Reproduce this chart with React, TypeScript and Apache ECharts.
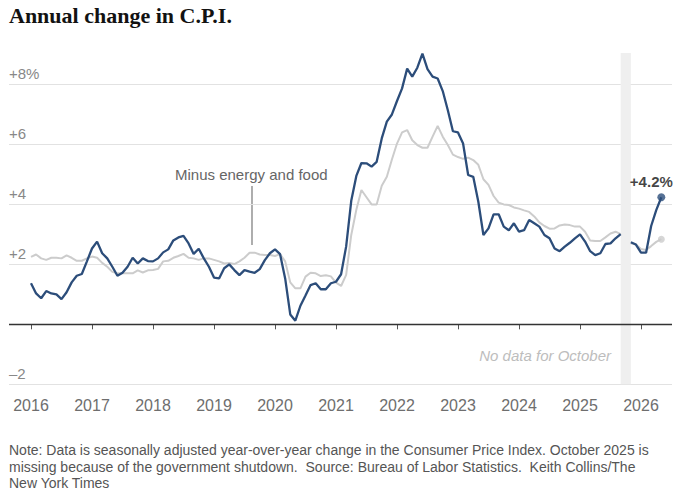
import React, { useEffect, useRef } from "react";
import * as echarts from "echarts";

// Monthly year-over-year change, Jan 2016 .. May 2026 (Oct 2025 missing)
const startYear = 2016;
const headlineCPI: (number | null)[] = [
  // 2016
  1.37, 1.03, 0.87, 1.11, 1.03, 1.0, 0.84, 1.07, 1.4, 1.62, 1.68, 2.1,
  // 2017
  2.53, 2.76, 2.37, 2.2, 1.92, 1.62, 1.72, 1.92, 2.22, 2.03, 2.2, 2.11,
  // 2018
  2.1, 2.2, 2.4, 2.5, 2.8, 2.9, 2.95, 2.7, 2.35, 2.52, 2.2, 1.92,
  // 2019
  1.56, 1.53, 1.87, 2.0, 1.81, 1.64, 1.81, 1.76, 1.72, 1.84, 2.14, 2.37,
  // 2020
  2.5, 2.34, 1.53, 0.33, 0.12, 0.62, 0.96, 1.31, 1.37, 1.17, 1.17, 1.37,
  // 2021
  1.42, 1.67, 2.6, 4.12, 4.95, 5.38, 5.37, 5.26, 5.42, 6.2, 6.76, 7.0,
  // 2022
  7.45, 7.87, 8.53, 8.26, 8.56, 9.03, 8.51, 8.26, 8.2, 7.78, 7.14, 6.44,
  // 2023
  6.4, 6.03, 4.98, 4.92, 4.09, 2.98, 3.2, 3.67, 3.67, 3.26, 3.14, 3.37,
  // 2024
  3.09, 3.14, 3.48, 3.37, 3.26, 2.98, 2.87, 2.53, 2.44, 2.59, 2.72, 2.87,
  // 2025
  3.0, 2.76, 2.44, 2.31, 2.37, 2.68, 2.7, 2.87, 3.01, null, 2.74, 2.66,
  // 2026
  2.39, 2.39, 3.28, 3.81, 4.24,
];

const coreCPI: (number | null)[] = [
  // 2016
  2.25, 2.33, 2.2, 2.15, 2.22, 2.22, 2.2, 2.3, 2.22, 2.12, 2.12, 2.2,
  // 2017
  2.26, 2.22, 2.05, 1.92, 1.75, 1.7, 1.7, 1.7, 1.7, 1.8, 1.73, 1.8,
  // 2018
  1.81, 1.85, 2.1, 2.12, 2.22, 2.28, 2.35, 2.22, 2.2, 2.15, 2.2, 2.2,
  // 2019
  2.15, 2.1, 2.03, 2.05, 2.01, 2.1, 2.22, 2.39, 2.39, 2.33, 2.31, 2.31,
  // 2020
  2.28, 2.34, 2.1, 1.4, 1.2, 1.2, 1.59, 1.72, 1.7, 1.61, 1.64, 1.6,
  // 2021
  1.39, 1.28, 1.65, 2.98, 3.82, 4.48, 4.24, 4.0, 4.0, 4.62, 4.92, 5.5,
  // 2022
  6.03, 6.4, 6.48, 6.14, 5.98, 5.89, 5.89, 6.26, 6.62, 6.26, 5.98, 5.66,
  // 2023
  5.58, 5.52, 5.56, 5.48, 5.32, 4.84, 4.65, 4.28, 4.06, 4.0, 3.98, 3.9,
  // 2024
  3.86, 3.8, 3.75, 3.6, 3.4, 3.28, 3.19, 3.2, 3.3, 3.33, 3.31, 3.26,
  // 2025
  3.26, 3.09, 2.8, 2.78, 2.78, 2.9, 3.03, 3.09, 3.01, null, 2.7, 2.66,
  // 2026
  2.51, 2.48, 2.61, 2.75, 2.84,
];

const xTickYears = [2016, 2017, 2018, 2019, 2020, 2021, 2022, 2023, 2024, 2025, 2026];
const yTicks = [-2, 2, 4, 6, 8];
const yTickLabels = ["–2", "+2", "+4", "+6", "+8%"];
// Missing-data band: Sep 2025 .. Nov 2025
const gapBand = [2025 + 8 / 12, 2025 + 10 / 12];

const noteLines = [
  "Note: Data is seasonally adjusted year-over-year change in the Consumer Price Index. October 2025 is",
  "missing because of the government shutdown.  Source: Bureau of Labor Statistics.  Keith Collins/The",
  "New York Times",
];

const SANS = "'Liberation Sans', Arial, sans-serif";

function toPoints(vals: (number | null)[]) {
  return vals.map((v, i) => [startYear + i / 12, v === null ? "-" : v]);
}

export default function App() {
  const ref = useRef<HTMLDivElement>(null);

  useEffect(() => {
    document.body.style.margin = "0";
    if (!ref.current) return;
    const chart = echarts.init(ref.current, null, { renderer: "svg" });

    const blue = "#2c4d7a";
    const gray = "#cccccc";
    const lastIdx = headlineCPI.length - 1;
    const lastX = startYear + lastIdx / 12;

    const option: any = {
      animation: false,
      grid: {
        left: 9,
        right: 8,
        top: 53,
        bottom: 110.7,
        containLabel: false,
        outerBoundsMode: "none",
      },
      xAxis: {
        type: "value",
        min: 2016 - 22 / 61,
        max: 2016 + 641 / 61,
        axisLine: { show: false },
        splitLine: { show: false },
        axisTick: {
          show: true,
          customValues: xTickYears,
          length: 5,
          lineStyle: { color: "#555", width: 1 },
        },
        axisLabel: {
          customValues: xTickYears,
          formatter: (v: number) => String(Math.round(v)),
          color: "#6e6e6e",
          fontSize: 16,
          fontFamily: SANS,
          margin: 13,
        },
      },
      yAxis: {
        type: "value",
        min: -2,
        max: 9.05,
        interval: 2,
        axisLine: { show: false },
        axisTick: { show: false },
        splitLine: {
          show: true,
          showMaxLine: false,
          lineStyle: { color: "#e2e2e2", width: 1 },
        },
        axisLabel: {
          inside: true,
          margin: 0,
          verticalAlign: "bottom",
          align: "left",
          color: "#888",
          fontSize: 15,
          fontFamily: SANS,
          padding: [0, 0, 3, 0],
          formatter: (v: number) => {
            const k = yTicks.findIndex((t) => Math.abs(t - v) < 1e-6);
            return k >= 0 ? yTickLabels[k] : "";
          },
        },
      },
      series: [
        {
          name: "Minus energy and food",
          type: "line",
          data: toPoints(coreCPI),
          symbol: "none",
          connectNulls: false,
          lineStyle: { color: gray, width: 2 },
          z: 2,
          markArea: {
            silent: true,
            itemStyle: { color: "#efefef" },
            data: [[{ xAxis: gapBand[0] }, { xAxis: gapBand[1] }]],
          },
        },
        {
          name: "C.P.I.",
          type: "line",
          data: toPoints(headlineCPI),
          symbol: "none",
          connectNulls: false,
          lineStyle: { color: blue, width: 2.3 },
          z: 4,
          markLine: {
            silent: true,
            symbol: ["none", "none"],
            label: { show: false },
            lineStyle: { color: "#333", width: 1.3, type: "solid" },
            data: [{ yAxis: 0 }],
          },
        },
        {
          type: "scatter",
          data: [[lastX, coreCPI[lastIdx]]],
          symbol: "circle",
          symbolSize: 7,
          itemStyle: { color: gray },
          z: 3,
        },
        {
          type: "scatter",
          data: [[lastX, headlineCPI[lastIdx]]],
          symbol: "circle",
          symbolSize: 8,
          itemStyle: { color: blue },
          z: 5,
          label: {
            show: true,
            position: "top",
            distance: 4,
            offset: [-10, 0],
            formatter: (p: any) => "+" + Number(p.value[1]).toFixed(1) + "%",
            color: "#121212",
            fontWeight: "bold",
            fontSize: 15,
            fontFamily: SANS,
          },
        },
      ],
      graphic: [
        {
          type: "text",
          left: 9,
          top: 4,
          style: {
            text: "Annual change in C.P.I.",
            fontFamily: "'Liberation Serif', 'Times New Roman', serif",
            fontWeight: "bold",
            fontSize: 22,
            fill: "#121212",
          },
        },
        {
          type: "text",
          x: 175,
          y: 174,
          style: {
            text: "Minus energy and food",
            fontFamily: SANS,
            fontSize: 15,
            fill: "#666",
            verticalAlign: "middle",
          },
        },
        {
          type: "line",
          shape: { x1: 252, y1: 186, x2: 252, y2: 245 },
          style: { stroke: "#777", lineWidth: 1.2 },
        },
        {
          type: "text",
          x: 611,
          y: 355,
          style: {
            text: "No data for October",
            fontFamily: SANS,
            fontSize: 15,
            fontStyle: "italic",
            fill: "#bdbdbd",
            align: "right",
            verticalAlign: "middle",
          },
        },
        ...noteLines.map((t, i) => ({
          type: "text",
          x: 9,
          y: 450 + i * 16.5,
          style: {
            text: t,
            fontFamily: SANS,
            fontSize: 14,
            fill: "#555",
            verticalAlign: "middle",
          },
        })),
      ],
    };

    chart.setOption(option);
    return () => chart.dispose();
  }, []);

  return <div ref={ref} style={{ width: 680, height: 495 }} />;
}
